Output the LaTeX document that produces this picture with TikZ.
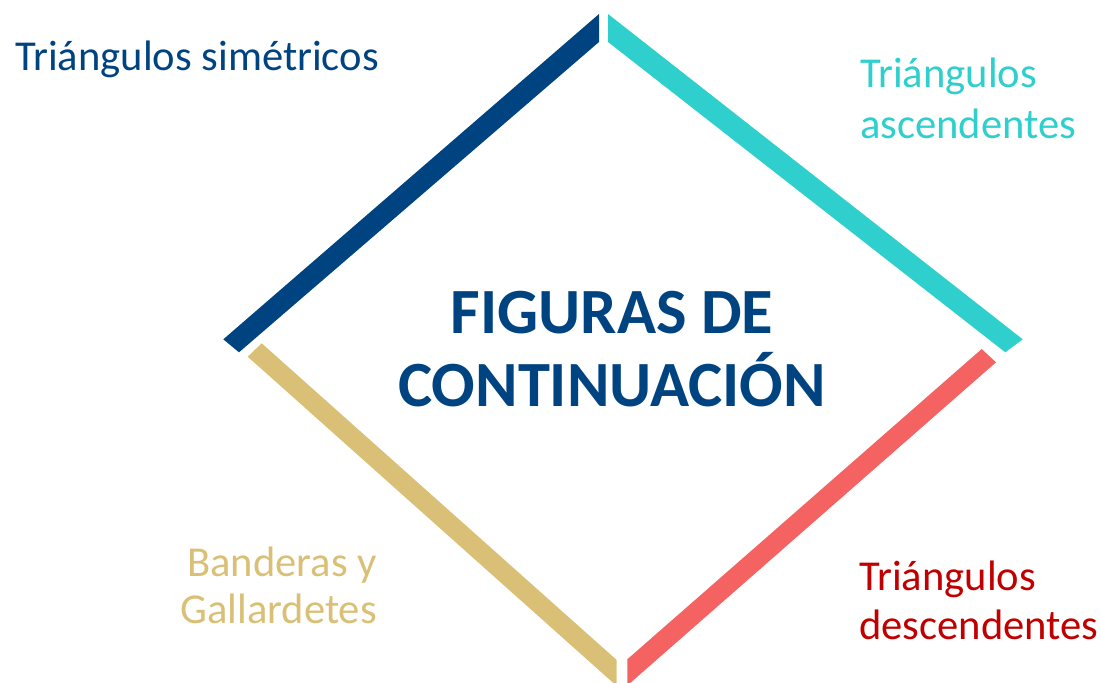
\documentclass[tikz,border=0pt]{standalone}
\usepackage{fontspec}
\setmainfont{Carlito}
\definecolor{navy}{HTML}{004381}
\definecolor{teal}{HTML}{2ECFCD}
\definecolor{coral}{HTML}{F46262}
\definecolor{gold}{HTML}{DAC076}
\definecolor{darkred}{HTML}{C00000}
\tikzset{
  lbl/.style={inner sep=0pt, font=\fontsize{42.6}{50}\selectfont},
  ttl/.style={inner sep=0pt, font=\fontsize{64.5}{75}\selectfont\bfseries, text=navy},
}
\begin{document}
\begin{tikzpicture}[x=1pt,y=-1pt]
\useasboundingbox (0,0) rectangle (1101,683);
% bars
\fill[navy] (599,14) -- (599,42) -- (239,352.3) -- (223.3,339.3) -- cycle;
\fill[teal] (608,14) -- (1022.7,339.3) -- (1005.3,352.3) -- (608,42) -- cycle;
\fill[coral] (981.7,349) -- (996,362.3) -- (627.3,685.5) -- (627.3,659.3) -- cycle;
\fill[gold] (261.7,343.3) -- (616.7,660) -- (616.7,686) -- (247.7,356.7) -- cycle;
% title
\node[ttl, anchor=base] (t1) at (612,333) {FIGURAS DE};
\node[ttl, anchor=base] (t2) at (612,406) {CONTINUACIÓN};
% labels
\node[lbl, text=navy, anchor=base west] (sim) at (15,70) {Triángulos simétricos};
\node[lbl, text=teal, anchor=base west] (asc1) at (860,87) {Triángulos};
\node[lbl, text=teal, anchor=base west] (asc2) at (860,138) {ascendentes};
\node[lbl, text=darkred, anchor=base west] (des1) at (859,590) {Triángulos};
\node[lbl, text=darkred, anchor=base west] (des2) at (859,639) {descendentes};
\node[lbl, text=gold, anchor=base east] (ban1) at (377,576) {Banderas y};
\node[lbl, text=gold, anchor=base east] (ban2) at (377,623) {Gallardetes};
\end{tikzpicture}
\end{document}
